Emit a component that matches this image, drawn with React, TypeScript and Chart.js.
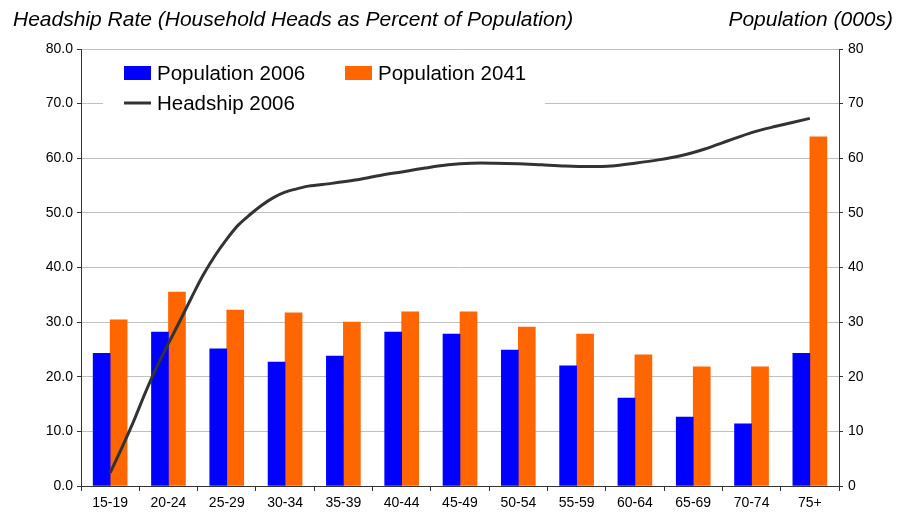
import React, { useEffect, useRef } from "react";
import { Chart, registerables } from "chart.js";

Chart.register(...registerables);

const categories = ["15-19", "20-24", "25-29", "30-34", "35-39", "40-44", "45-49", "50-54", "55-59", "60-64", "65-69", "70-74", "75+"];
const population2006 = [24.3, 28.2, 25.1, 22.7, 23.8, 28.2, 27.8, 24.9, 22.0, 16.1, 12.6, 11.4, 24.3];
const population2041 = [30.4, 35.5, 32.2, 31.7, 30.0, 31.9, 31.9, 29.1, 27.8, 24.0, 21.8, 21.8, 63.9];
// Headship curve sampled at single ages (group midpoint of 15-19 = 17, each group = 5 years)
const headshipAges = [17, 18, 19, 20, 21, 22, 23, 24, 25, 26, 27, 28, 29, 30, 31, 32, 33, 34, 36, 38, 40, 42, 44, 46, 48, 50, 52, 54, 56, 58, 60, 62, 64, 66, 68, 70, 72, 74, 77];
const headshipRates = [2.4, 7.0, 11.8, 17.0, 21.8, 26.1, 30.3, 34.6, 38.7, 42.2, 45.2, 47.8, 49.7, 51.4, 52.8, 53.8, 54.4, 54.9, 55.4, 56.0, 56.8, 57.5, 58.2, 58.8, 59.1, 59.1, 59.0, 58.8, 58.6, 58.5, 58.6, 59.1, 59.7, 60.5, 61.7, 63.2, 64.7, 65.8, 67.3];
const yTicks = [0, 10, 20, 30, 40, 50, 60, 70, 80];

const FONT = "'Liberation Sans', Arial, sans-serif";

const titlePlugin = {
  id: "titles",
  afterDraw(chart: any) {
    const ctx = chart.ctx;
    ctx.save();
    ctx.fillStyle = "#000";
    ctx.font = `italic 21px ${FONT}`;
    ctx.textBaseline = "middle";
    ctx.textAlign = "left";
    ctx.fillText("Headship Rate (Household Heads as Percent of Population)", 13, 20);
    ctx.textAlign = "right";
    ctx.fillText("Population (000s)", 893, 20);
    ctx.restore();
  },
};

const legendPlugin = {
  id: "customLegend",
  afterDraw(chart: any) {
    const ctx = chart.ctx;
    const ds = chart.data.datasets;
    ctx.save();
    ctx.fillStyle = "#fff";
    ctx.fillRect(103, 56, 442, 62);
    ctx.font = `20.5px ${FONT}`;
    ctx.textBaseline = "middle";
    ctx.textAlign = "left";
    const items = [
      { d: ds[1], x: 124, y: 73 },
      { d: ds[2], x: 345, y: 73 },
      { d: ds[0], x: 124, y: 103 },
    ];
    for (const it of items) {
      if (it.d.type === "line") {
        ctx.strokeStyle = it.d.borderColor;
        ctx.lineWidth = 3;
        ctx.beginPath();
        ctx.moveTo(it.x, it.y);
        ctx.lineTo(it.x + 27, it.y);
        ctx.stroke();
      } else {
        ctx.fillStyle = it.d.backgroundColor;
        ctx.fillRect(it.x, it.y - 7, 27, 14);
      }
      ctx.fillStyle = "#000";
      ctx.fillText(it.d.label, it.x + 33, it.y + 1);
    }
    ctx.restore();
  },
};

export default function App() {
  const ref = useRef<HTMLCanvasElement | null>(null);
  useEffect(() => {
    if (!ref.current) return;
    const chart = new Chart(ref.current, {
      type: "bar",
      data: {
        labels: categories,
        datasets: [
          {
            type: "line",
            label: "Headship 2006",
            data: headshipAges.map((a, i) => ({ x: (a - 17) / 5, y: headshipRates[i] })),
            xAxisID: "xLine",
            yAxisID: "y",
            borderColor: "#333333",
            borderWidth: 3,
            pointRadius: 0,
            tension: 0.3,
            fill: false,
            order: 0,
          } as any,
          {
            type: "bar",
            label: "Population 2006",
            data: population2006,
            backgroundColor: "#0000ff",
            xAxisID: "x",
            yAxisID: "y2",
            order: 1,
            barThickness: 17,
          },
          {
            type: "bar",
            label: "Population 2041",
            data: population2041,
            backgroundColor: "#ff6600",
            xAxisID: "x",
            yAxisID: "y2",
            order: 1,
            barThickness: 17,
          },
        ],
      },
      options: {
        animation: false,
        responsive: false,
        maintainAspectRatio: false,
        layout: { padding: { top: 49, left: 0, right: 0, bottom: 0 } },
        plugins: {
          legend: { display: false },
          tooltip: { enabled: false },
          title: { display: false },
        },
        scales: {
          x: {
            type: "category",
            offset: true,
            grid: { display: true, drawOnChartArea: false, drawTicks: true, tickLength: 5, tickColor: "#333", offset: true },
            border: { display: true, color: "#333", width: 1 },
            ticks: { font: { family: FONT, size: 14 }, color: "#000", padding: 4, maxRotation: 0, autoSkip: false },
            afterFit: (s: any) => { s.height = 28; },
          },
          xLine: {
            type: "linear",
            display: false,
            offset: false,
            grid: { offset: false },
            min: -0.5,
            max: 12.5,
          },
          y: {
            type: "linear",
            position: "left",
            min: 0,
            max: 80,
            afterBuildTicks: (s: any) => { s.ticks = yTicks.map((v) => ({ value: v })); },
            grid: { color: "#c0c0c0", lineWidth: 1, tickLength: 4, tickColor: "#333" },
            border: { display: true, color: "#333", width: 1 },
            ticks: { font: { family: FONT, size: 14 }, color: "#000", padding: 4, callback: (v: any) => Number(v).toFixed(1) },
            afterFit: (s: any) => { s.width = 81; },
          },
          y2: {
            type: "linear",
            position: "right",
            min: 0,
            max: 80,
            afterBuildTicks: (s: any) => { s.ticks = yTicks.map((v) => ({ value: v })); },
            grid: { drawOnChartArea: false, tickLength: 4, tickColor: "#333" },
            border: { display: true, color: "#333", width: 1 },
            ticks: { font: { family: FONT, size: 14 }, color: "#000", padding: 5, callback: (v: any) => String(v) },
            afterFit: (s: any) => { s.width = 61; },
          },
        },
      },
      plugins: [titlePlugin, legendPlugin],
    });
    return () => chart.destroy();
  }, []);
  return (
    <div style={{ position: "fixed", left: 0, top: 0, width: 900, height: 514, background: "#fff" }}>
      <canvas ref={ref} width={900} height={514} style={{ width: 900, height: 514, display: "block" }} />
    </div>
  );
}
